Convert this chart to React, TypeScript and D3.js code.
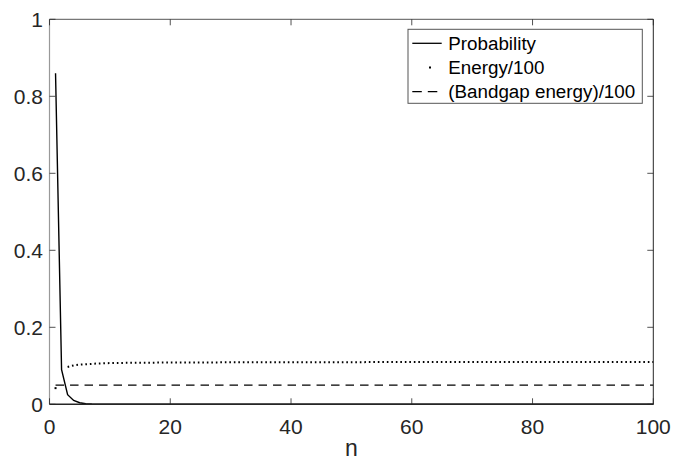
import React from 'react';
import * as d3 from 'd3';

// values
const nValues = [1, 2, 3, 4, 5, 6, 7, 8, 9, 10, 12, 15, 20, 30, 40, 50, 60, 70, 80, 90, 100];
const probability = [0.86, 0.09, 0.025, 0.01, 0.004, 0.0015, 0.0006, 0.0002, 0.0001, 0, 0, 0, 0, 0, 0, 0, 0, 0, 0, 0, 0];
const energy = [0.042, null, 0.097, 0.101, 0.103, 0.104, 0.105, 0.106, 0.1065, 0.107, 0.1075, 0.108, 0.1085, 0.109, 0.1093, 0.1095, 0.1097, 0.1098, 0.1099, 0.11, 0.11];
const bandgap = [0.05, 0.05, 0.05, 0.05, 0.05, 0.05, 0.05, 0.05, 0.05, 0.05, 0.05, 0.05, 0.05, 0.05, 0.05, 0.05, 0.05, 0.05, 0.05, 0.05, 0.05];
const xTicks = [0, 20, 40, 60, 80, 100];
const yTicks = [0, 0.2, 0.4, 0.6, 0.8, 1];
const legendLabels = ['Probability', 'Energy/100', '(Bandgap energy)/100'];

const W = 673, H = 464;
const margin = { top: 19.3, right: 19.7, bottom: 59.7, left: 49.5 };
const font = '"Liberation Sans", Arial, Helvetica, sans-serif';
const axisColor = '#262626';

export default function App() {
  const x = d3.scaleLinear().domain([0, 100]).range([margin.left, W - margin.right]);
  const y = d3.scaleLinear().domain([0, 1]).range([H - margin.bottom, margin.top]);
  const [x0, x1] = x.range();
  const [y0, y1] = y.range();

  const line = d3.line<[number, number | null]>()
    .defined(d => d[1] !== null)
    .x(d => x(d[0]))
    .y(d => y(d[1] as number));

  const probPath = line(nValues.map((n, i) => [n, probability[i]]));
  const energyPath = line(nValues.map((n, i) => [n, energy[i]]));
  const bandPath = line(nValues.map((n, i) => [n, bandgap[i]]));

  // isolated energy points get drawn as a single dot
  const lonely = nValues
    .map((n, i) => ({ n, v: energy[i], prev: energy[i - 1], next: energy[i + 1] }))
    .filter(d => d.v !== null && d.prev == null && d.next == null);

  const tickLen = 6;
  const lg = { x: 408, y: 29.3, w: 234.3, h: 74, row: 24.2 };

  return (
    <svg width={W} height={H} style={{ position: 'absolute', left: 0, top: 0, background: '#fff' }}>
      <rect x={0} y={0} width={W} height={H} fill="#fff" />

      {/* data */}
      <path d={bandPath || ''} fill="none" stroke="#000" strokeWidth={1.3} strokeDasharray="8.5,6" />
      <path d={energyPath || ''} fill="none" stroke="#000" strokeWidth={2} strokeDasharray="1.6,2.9" />
      {lonely.map(d => (
        <rect key={d.n} x={x(d.n) - 1} y={y(d.v as number) - 1} width={2} height={2} fill="#000" />
      ))}
      <path d={probPath || ''} fill="none" stroke="#000" strokeWidth={1.4} />

      {/* axes box */}
      <line x1={x0} x2={x1} y1={y1} y2={y1} stroke="#555" strokeWidth={1} />
      <line x1={x0} x2={x0} y1={y0} y2={y1} stroke="#999" strokeWidth={1.2} />
      <line x1={x1} x2={x1} y1={y0} y2={y1} stroke={axisColor} strokeWidth={1} />
      <line x1={x0} x2={x1} y1={y0} y2={y0} stroke={axisColor} strokeWidth={1.6} />

      {xTicks.map(t => (
        <g key={'x' + t}>
          <line x1={x(t)} x2={x(t)} y1={y0} y2={y0 - tickLen} stroke={axisColor} strokeWidth={0.8} />
          <line x1={x(t)} x2={x(t)} y1={y1} y2={y1 + tickLen} stroke={axisColor} strokeWidth={0.8} />
          <text x={x(t)} y={434} textAnchor="middle" fontFamily={font} fontSize={21} fill={axisColor}>{t}</text>
        </g>
      ))}
      {yTicks.map(t => (
        <g key={'y' + t}>
          <line x1={x0} x2={x0 + tickLen} y1={y(t)} y2={y(t)} stroke={axisColor} strokeWidth={0.8} />
          <line x1={x1} x2={x1 - tickLen} y1={y(t)} y2={y(t)} stroke={axisColor} strokeWidth={0.8} />
          <text x={43} y={y(t)} dy="0.36em" textAnchor="end" fontFamily={font} fontSize={21} fill={axisColor}>{d3.format('~g')(t)}</text>
        </g>
      ))}
      <text x={(x0 + x1) / 2} y={456} textAnchor="middle" fontFamily={font} fontSize={23} fill={axisColor}>n</text>

      {/* legend */}
      <rect x={lg.x} y={lg.y} width={lg.w} height={lg.h} fill="#fff" stroke="#555" strokeWidth={1} />
      {legendLabels.map((label, i) => {
        const cy = lg.y + 14 + i * lg.row;
        return (
          <g key={label}>
            {i === 0 && <line x1={412.3} x2={441.7} y1={cy} y2={cy} stroke="#000" strokeWidth={1.3} />}
            {i === 1 && <rect x={429} y={cy - 1} width={2} height={2} fill="#000" />}
            {i === 2 && <line x1={412.3} x2={441.7} y1={cy} y2={cy} stroke="#000" strokeWidth={1.3} strokeDasharray="9.5,6" />}
            <text x={448.3} y={cy} dy="0.36em" fontFamily={font} fontSize={18.8} fill="#000">{label}</text>
          </g>
        );
      })}
    </svg>
  );
}
